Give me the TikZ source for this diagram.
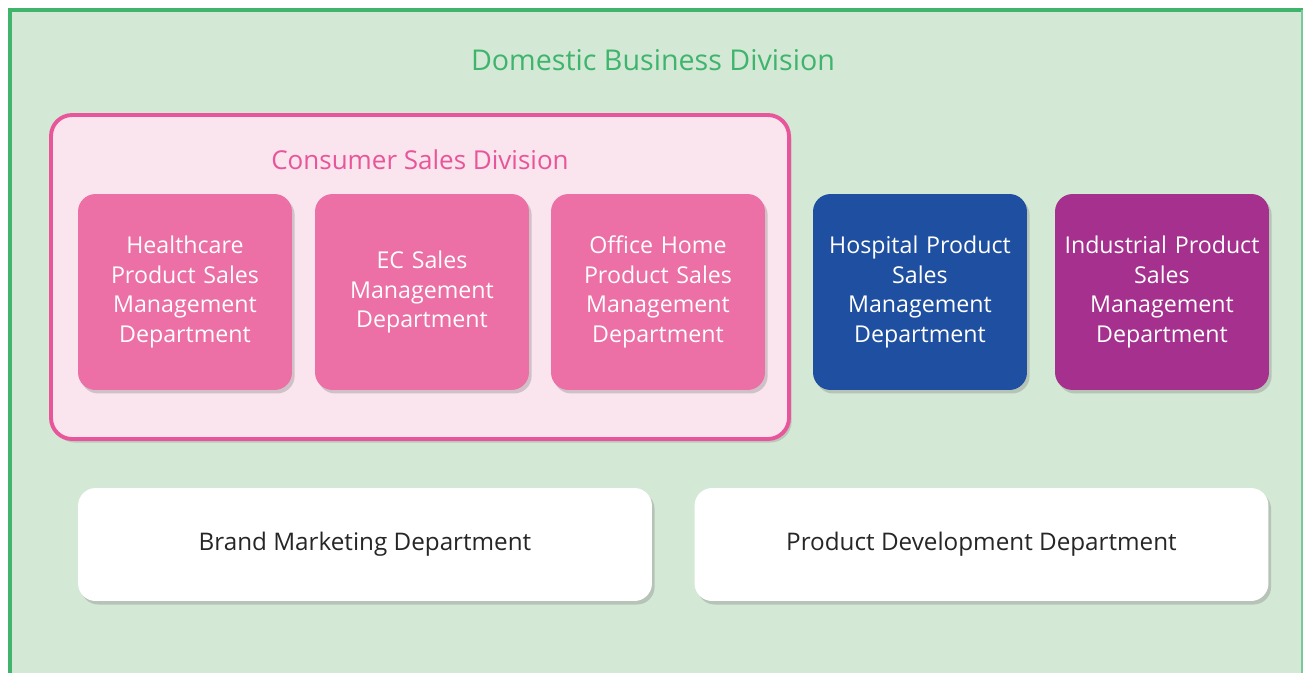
\documentclass[tikz,border=0pt]{standalone}
\usepackage{fontspec}
\setmainfont{Open Sans}
\usetikzlibrary{shadows}
\definecolor{framegreen}{HTML}{3FB46C}
\definecolor{bggreen}{HTML}{D3E8D5}
\definecolor{pinkline}{HTML}{E8559A}
\definecolor{pinkbg}{HTML}{FAE4EE}
\definecolor{pinkbox}{HTML}{EC6FA5}
\definecolor{bluebox}{HTML}{1F4FA0}
\definecolor{purplebox}{HTML}{A5308D}
\tikzset{
  dept/.style={rounded corners=10pt, minimum width=4.28cm, minimum height=3.92cm,
    text width=4.26cm, align=center, text=white, inner sep=0pt,
    font=\fontsize{13.2}{16.9}\selectfont,
    drop shadow={shadow xshift=1.5pt, shadow yshift=-2pt, opacity=0.35}},
  widebox/.style={rounded corners=10pt, fill=white, minimum width=11.48cm, minimum height=2.26cm,
    inner sep=0pt, font=\fontsize{13.8}{16.8}\selectfont, text=black!85,
    drop shadow={shadow xshift=1.5pt, shadow yshift=-2pt, opacity=0.35}}
}
\begin{document}
\begin{tikzpicture}[x=0.02cm, y=-0.02cm]
		%%%%% START %%%%%
		\useasboundingbox[fill=white] (0, 0) rectangle (1303, 673);
		\fill[bggreen] (8, 8) rectangle (1303, 673);
		\draw[framegreen, line width=2.6pt] (10, 673) -- (10, 10) -- (1303, 10);
		\draw[framegreen!70, line width=1pt] (1302, 10) -- (1302, 673);
		
		\node[text=framegreen, font=\fontsize{16.3}{19}\selectfont] (domestic) at (653, 60) {Domestic Business Division};
		
		\draw[pinkline, fill=pinkbg, line width=2.2pt, rounded corners=12pt,
		  drop shadow={shadow xshift=1.5pt, shadow yshift=-2pt, opacity=0.3}] (51, 115) rectangle (789, 439);
		\node[text=pinkline, font=\fontsize{14.8}{17}\selectfont] (consumer) at (420, 160) {Consumer Sales Division};
		
		\node[dept, fill=pinkbox] (healthcare) at (185, 292) {Healthcare\\Product Sales\\Management\\Department};
		\node[dept, fill=pinkbox] (ecsales) at (422, 292) {EC Sales\\Management\\Department};
		\node[dept, fill=pinkbox] (office) at (658, 292) {Office Home\\Product Sales\\Management\\Department};
		\node[dept, fill=bluebox] (hospital) at (920, 292) {Hospital Product\\Sales\\Management\\Department};
		\node[dept, fill=purplebox] (industrial) at (1162, 292) {Industrial Product\\Sales\\Management\\Department};
		
		\node[widebox] (brand) at (365, 544.5) {Brand Marketing Department};
		\node[widebox] (development) at (981.5, 544.5) {Product Development Department};
		%%%%% END %%%%%
	\end{tikzpicture}
\end{document}
